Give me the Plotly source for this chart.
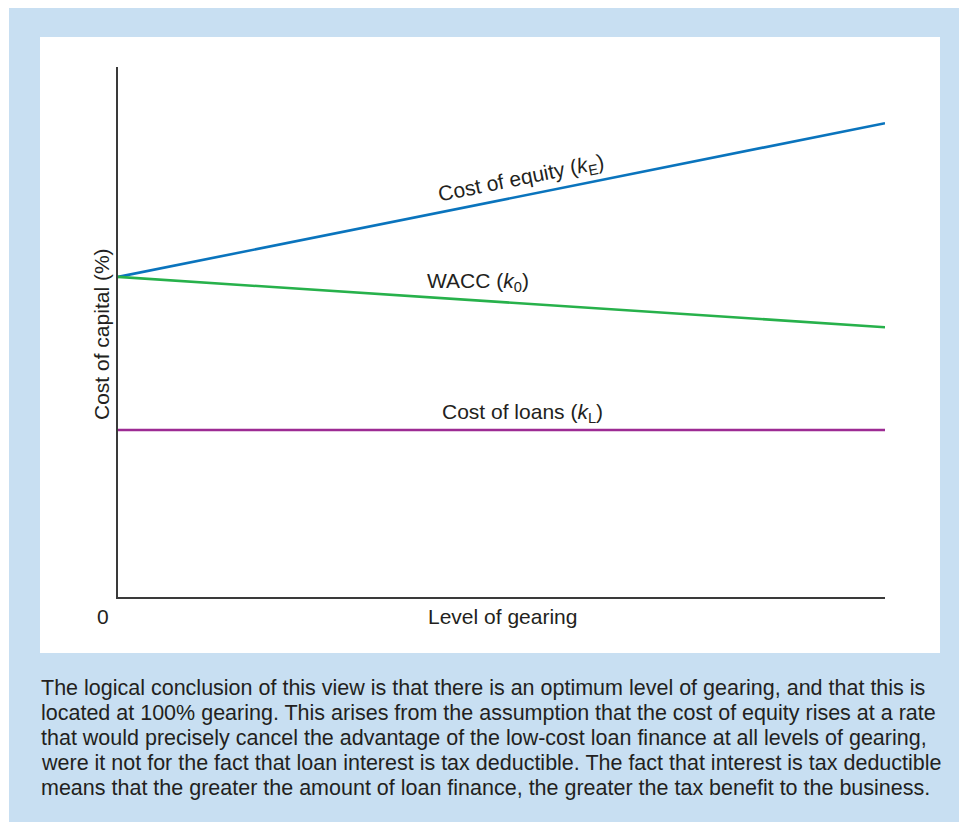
import plotly.graph_objects as go

# ---- data ----
gearing = [0, 100]
cost_of_equity = [60.4, 89.4]
wacc = [60.4, 50.9]
cost_of_loans = [31.5, 31.5]

caption_lines = [
    "The logical conclusion of this view is that there is an optimum level of gearing, and that this is",
    "located at 100% gearing. This arises from the assumption that the cost of equity rises at a rate",
    "that would precisely cancel the advantage of the low-cost loan finance at all levels of gearing,",
    "were it not for the fact that loan interest is tax deductible. The fact that interest is tax deductible",
    "means that the greater the amount of loan finance, the greater the tax benefit to the business.",
]

# page body has an 8px margin; compensate so screen pixels match the reference
OFF = 8
W, H = 967 - OFF, 822 - OFF
FONT = "Liberation Sans, Arial, sans-serif"
TXT = "#231F20"


def px(x):
    return (x - OFF) / W


def py(y):
    return 1 - (y - OFF) / H


fig = go.Figure()
fig.add_trace(go.Scatter(x=gearing, y=cost_of_equity, mode="lines",
                         line=dict(color="#0A74BD", width=2.6), hoverinfo="skip"))
fig.add_trace(go.Scatter(x=gearing, y=wacc, mode="lines",
                         line=dict(color="#27B14B", width=2.6), hoverinfo="skip"))
fig.add_trace(go.Scatter(x=gearing, y=cost_of_loans, mode="lines",
                         line=dict(color="#9D2B93", width=2.6), hoverinfo="skip"))

shapes = [
    dict(type="rect", xref="paper", yref="paper", x0=px(9), x1=1.0, y0=0.0, y1=1.0,
         fillcolor="#C8DFF2", line=dict(width=0), layer="below"),
    dict(type="rect", xref="paper", yref="paper", x0=px(40), x1=px(940), y0=py(653), y1=py(37),
         fillcolor="white", line=dict(width=0), layer="below"),
]


def ann(text, x, y, size=20, angle=0):
    return dict(text=text, xref="paper", yref="paper", x=px(x), y=py(y), showarrow=False,
                xanchor="center", yanchor="middle", textangle=angle,
                font=dict(size=size, color=TXT, family=FONT))


annotations = [
    ann("Cost of equity (<i>k</i><sub>E</sub>)", 521, 179, 21, -11.4),
    ann("WACC (<i>k</i><sub>0</sub>)", 478, 282, 21),
    ann("Cost of loans (<i>k</i><sub>L</sub>)", 522, 413, 21),
    ann("0", 103, 616, 21),
    ann("Level of gearing", 502, 616, 21),
    ann("Cost of capital (%)", 102, 334, 21, -90),
]
for i, line in enumerate(caption_lines):
    annotations.append(dict(text=line, xref="paper", yref="paper", x=px(39), y=py(688 + 25 * i),
                            xanchor="left", yanchor="middle", showarrow=False,
                            font=dict(size=21.5, color=TXT, family=FONT)))

fig.update_layout(
    width=W, height=H,
    margin=dict(l=0, r=0, t=0, b=0),
    paper_bgcolor="white", plot_bgcolor="rgba(0,0,0,0)",
    showlegend=False,
    shapes=shapes,
    annotations=annotations,
    xaxis=dict(domain=[px(118), px(885)], range=[0, 100], showgrid=False, zeroline=False,
               showticklabels=False, ticks="", showline=True, linecolor="#3A3A3A", linewidth=1.5,
               fixedrange=True),
    yaxis=dict(domain=[py(597), py(67)], range=[0, 100], showgrid=False, zeroline=False,
               showticklabels=False, ticks="", showline=True, linecolor="#3A3A3A", linewidth=1.5,
               fixedrange=True),
)

fig.write_html("out.html", config={"displayModeBar": False})
